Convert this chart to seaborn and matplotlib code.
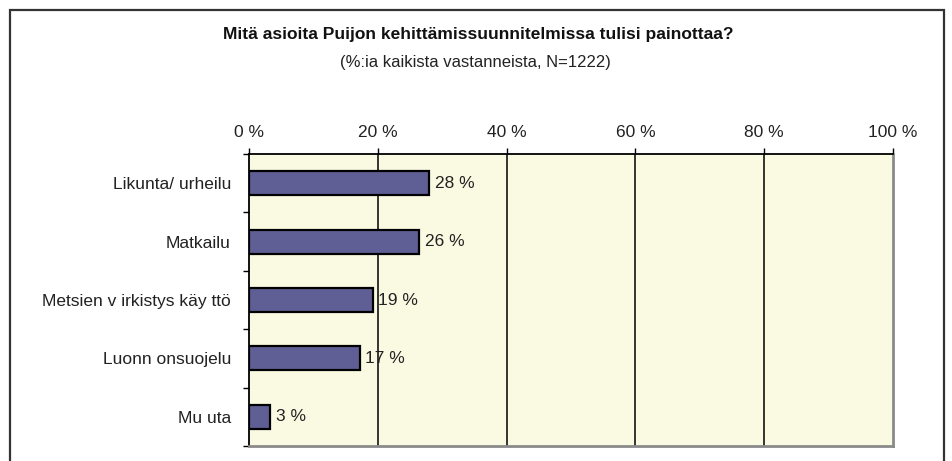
import matplotlib
matplotlib.use("Agg")
import matplotlib.pyplot as plt
import seaborn as sns
import pandas as pd
from matplotlib.patches import Rectangle

categories = ["Likunta/ urheilu", "Matkailu", "Metsien v irkistys käy ttö", "Luonn onsuojelu", "Mu uta"]
values = [28.0, 26.4, 19.2, 17.2, 3.3]
value_labels = ["28 %", "26 %", "19 %", "17 %", "3 %"]
tick_values = [0, 20, 40, 60, 80, 100]
tick_labels = ["0 %", "20 %", "40 %", "60 %", "80 %", "100 %"]
title = "Mitä asioita Puijon kehittämissuunnitelmissa tulisi painottaa?"
subtitle = "(%:ia kaikista vastanneista, N=1222)"

sns.set_theme(style="white")
plt.rcParams['font.family'] = ['Liberation Sans', 'DejaVu Sans']

df = pd.DataFrame({"cat": categories, "val": values})

fig = plt.figure(figsize=(9.52, 4.61), dpi=100)
ax = fig.add_axes([249/952, 1 - 446/461, (893-249)/952, (446-154)/461])
ax.set_facecolor("#FAFAE3")

sns.barplot(data=df, x="val", y="cat", orient="h", color="#5F5F96",
            edgecolor="black", linewidth=1.6, width=0.41, saturation=1, ax=ax, zorder=3)

ax.set_xlim(0, 100)
ax.set_ylim(4.5, -0.5)
ax.set_xlabel("")
ax.set_ylabel("")

# gridlines
for v in tick_values[1:-1]:
    ax.axvline(v, color="black", lw=1.1, zorder=1)

ax.xaxis.tick_top()
ax.set_xticks(tick_values)
ax.set_xticklabels(tick_labels, fontsize=12.5, color="#222222")
ax.tick_params(axis="x", which="major", direction="out", length=4, width=1, pad=6, color="black", top=True, bottom=False)

ax.set_yticks(range(len(categories)))
ax.set_yticklabels(categories, fontsize=12.5, color="#222222")
ax.tick_params(axis="y", which="major", length=0, pad=13)
ax.set_yticks([i - 0.5 for i in range(len(categories) + 1)], minor=True)
ax.tick_params(axis="y", which="minor", direction="out", length=4, width=1, color="black", left=True)

for side in ["top", "left"]:
    ax.spines[side].set_color("black")
    ax.spines[side].set_linewidth(1.3)
for side in ["right", "bottom"]:
    ax.spines[side].set_color("#8A8A8A")
    ax.spines[side].set_linewidth(2)

ax.bar_label(ax.containers[0], labels=value_labels, padding=4, fontsize=12.5, color="#222222")

fig.text(478/952, 1 - 35/461, title, ha="center", va="center", fontsize=12.5, fontweight="bold", color="#111111")
fig.text(475/952, 1 - 62/461, subtitle, ha="center", va="center", fontsize=12, color="#222222")

# outer frame
fig.patches.append(Rectangle((10/952, -0.05), (944-10)/952, 1.05 - 10/461,
                             transform=fig.transFigure, fill=False, edgecolor="#333333", lw=1.6))

fig.savefig("out.png", dpi=100, facecolor="white")
